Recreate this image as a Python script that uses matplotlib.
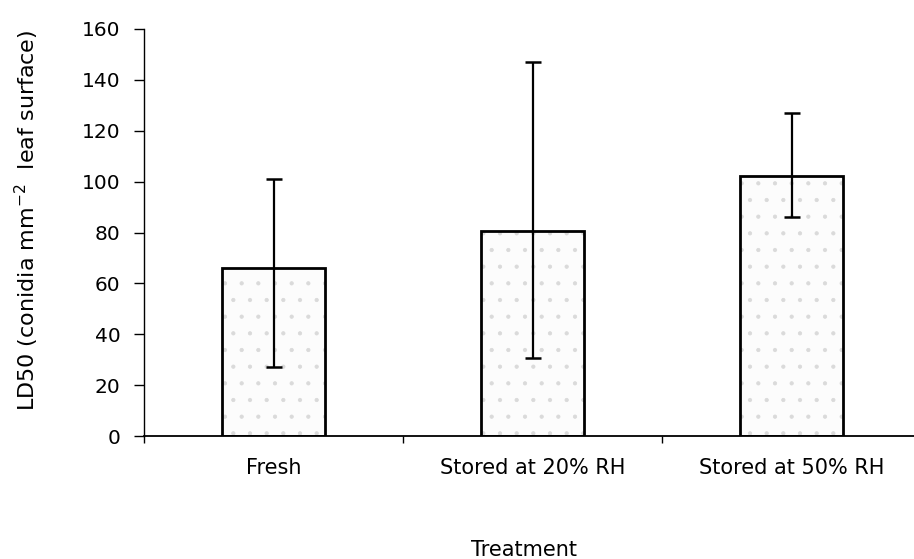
import matplotlib
matplotlib.use("Agg")
import matplotlib.pyplot as plt
import numpy as np

categories = ["Fresh", "Stored at 20% RH", "Stored at 50% RH"]
ld50 = [66, 80.7, 102.4]
ci_low = [27, 30.7, 86]
ci_high = [101, 147, 127]
yticks = [0, 20, 40, 60, 80, 100, 120, 140, 160]

plt.rcParams['font.family'] = ['DejaVu Sans']
plt.rcParams['mathtext.fontset'] = 'dejavusans'
plt.rcParams['mathtext.default'] = 'regular'
plt.rcParams['hatch.linewidth'] = 0.6

fig = plt.figure(figsize=(9.14, 5.59), dpi=100)
ax = fig.add_axes([144/914, 123/559, (921-144)/914, 407/559])

x = np.arange(1, len(categories) + 1)
lo = np.array(ld50) - np.array(ci_low)
hi = np.array(ci_high) - np.array(ld50)

ax.bar(x, ld50, width=0.40, color='#fcfcfc', edgecolor='#dadada', hatch='.', linewidth=0, zorder=1)
ax.bar(x, ld50, width=0.40, fill=False, edgecolor='black', linewidth=2.0, zorder=2)
ax.errorbar(x, ld50, yerr=[lo, hi], fmt='none', ecolor='black', elinewidth=1.6,
            capsize=5.5, capthick=1.8, zorder=3)

ax.set_xlim(0.5, 3.5)
ax.set_ylim(0, 160)
ax.set_yticks(yticks)
ax.set_yticklabels([str(v) for v in yticks])

ax.set_xticks([0.5, 1.5, 2.5, 3.5])
ax.set_xticklabels([])
ax.set_xticks(x, minor=True)
ax.set_xticklabels(categories, minor=True)
ax.tick_params(axis='x', which='major', direction='out', length=5, width=1)
ax.tick_params(axis='x', which='minor', length=0, pad=16, labelsize=15)
ax.tick_params(axis='y', direction='out', length=7, width=1, pad=10, labelsize=14.5)

for s in ['top', 'right']:
    ax.spines[s].set_visible(False)
ax.spines['left'].set_linewidth(1.0)
ax.spines['bottom'].set_linewidth(1.3)

fig.text(27/914, 1 - 220/559, "LD50 (conidia mm$^{-2}$  leaf surface)", rotation=90,
         ha='center', va='center', fontsize=16)
fig.text(524/914, 1 - 550/559, "Treatment", ha='center', va='center', fontsize=15)

fig.savefig("out.png", dpi=100)
